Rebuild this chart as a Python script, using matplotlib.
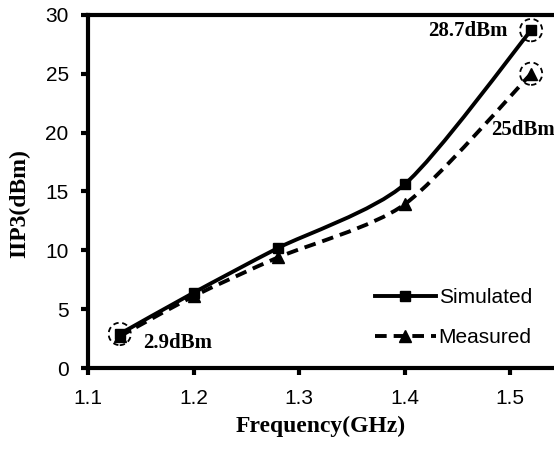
import matplotlib.pyplot as plt
from matplotlib.patches import Ellipse, PathPatch
from matplotlib.path import Path
from matplotlib.lines import Line2D

freq = [1.13, 1.2, 1.28, 1.4, 1.52]
simulated = [2.9, 6.4, 10.2, 15.6, 28.7]
measured = [2.7, 6.1, 9.4, 13.9, 25.0]

sans = ['Liberation Sans', 'DejaVu Sans']
serif = ['Liberation Serif', 'DejaVu Serif']
dash = (0, (3, 1.8))


def smooth_path(xs, ys, k=8.0):
    # Catmull-Rom style curve through the points, as cubic Bezier segments
    pts = list(zip(xs, ys))
    verts = [pts[0]]
    codes = [Path.MOVETO]
    for i in range(len(pts) - 1):
        p0 = pts[i - 1] if i > 0 else pts[i]
        p1, p2 = pts[i], pts[i + 1]
        p3 = pts[i + 2] if i + 2 < len(pts) else pts[i + 1]
        c1 = (p1[0] + (p2[0] - p0[0]) / k, p1[1] + (p2[1] - p0[1]) / k)
        c2 = (p2[0] - (p3[0] - p1[0]) / k, p2[1] - (p3[1] - p1[1]) / k)
        verts += [c1, c2, p2]
        codes += [Path.CURVE4] * 3
    return Path(verts, codes)


fig = plt.figure(figsize=(5.54, 4.5), dpi=100)
ax = fig.add_axes([0.159, 0.182, 0.841, 0.785])

ax.add_patch(PathPatch(smooth_path(freq, simulated), fill=False, edgecolor='black',
                       linewidth=2.8, capstyle='butt'))
ax.add_patch(PathPatch(smooth_path(freq, measured), fill=False, edgecolor='black',
                       linewidth=2.8, linestyle=dash, capstyle='butt'))
ax.plot(freq, simulated, linestyle='none', marker='s', markersize=7.5, color='black')
ax.plot(freq, measured, linestyle='none', marker='^', markersize=9, color='black')

# dashed circles round the marked points
for x, y in [(freq[0], simulated[0]), (freq[-1], simulated[-1]), (freq[-1], measured[-1])]:
    ax.add_patch(Ellipse((x, y), 0.021, 1.9, fill=False, edgecolor='black',
                         linestyle=(0, (3, 2)), linewidth=1.3))

ax.text(1.498, simulated[-1] - 0.1, '%.1fdBm' % simulated[-1], ha='right', va='center',
        fontsize=15, fontweight='bold', family=serif)
ax.text(1.482, 20.2, '%gdBm' % measured[-1], ha='left', va='center',
        fontsize=15, fontweight='bold', family=serif)
ax.text(1.152, 2.1, '%.1fdBm' % simulated[0], ha='left', va='center',
        fontsize=15, fontweight='bold', family=serif)

ax.set_xlim(1.1, 1.5417)
ax.set_ylim(0, 30)
ax.set_xticks([1.1, 1.2, 1.3, 1.4, 1.5])
ax.set_yticks([0, 5, 10, 15, 20, 25, 30])
ax.spines['right'].set_visible(False)
for s in ['left', 'bottom', 'top']:
    ax.spines[s].set_linewidth(3)
ax.tick_params(direction='out', length=5, width=3, labelsize=15)
ax.tick_params(axis='x', pad=10)
ax.tick_params(axis='y', pad=9)
for lab in ax.get_xticklabels() + ax.get_yticklabels():
    lab.set_family(sans)

ax.set_xlabel('Frequency(GHz)', fontsize=17, fontweight='bold', family=serif, labelpad=6)
ax.set_ylabel('IIP3(dBm)', fontsize=17, fontweight='bold', family=serif)
ax.yaxis.set_label_coords(-0.125, 0.465)

handles = [Line2D([], [], color='black', linewidth=2.8, marker='s', markersize=7.5),
           Line2D([], [], color='black', linewidth=2.8, linestyle=dash, marker='^',
                  markersize=9)]
ax.legend(handles, ['Simulated', 'Measured'], loc='lower right', frameon=False,
          handlelength=2.9, handletextpad=0.15, labelspacing=1.0, borderpad=0,
          bbox_to_anchor=(0.975, 0.03), prop={'family': sans, 'size': 15})

fig.savefig('out.png', dpi=100)
